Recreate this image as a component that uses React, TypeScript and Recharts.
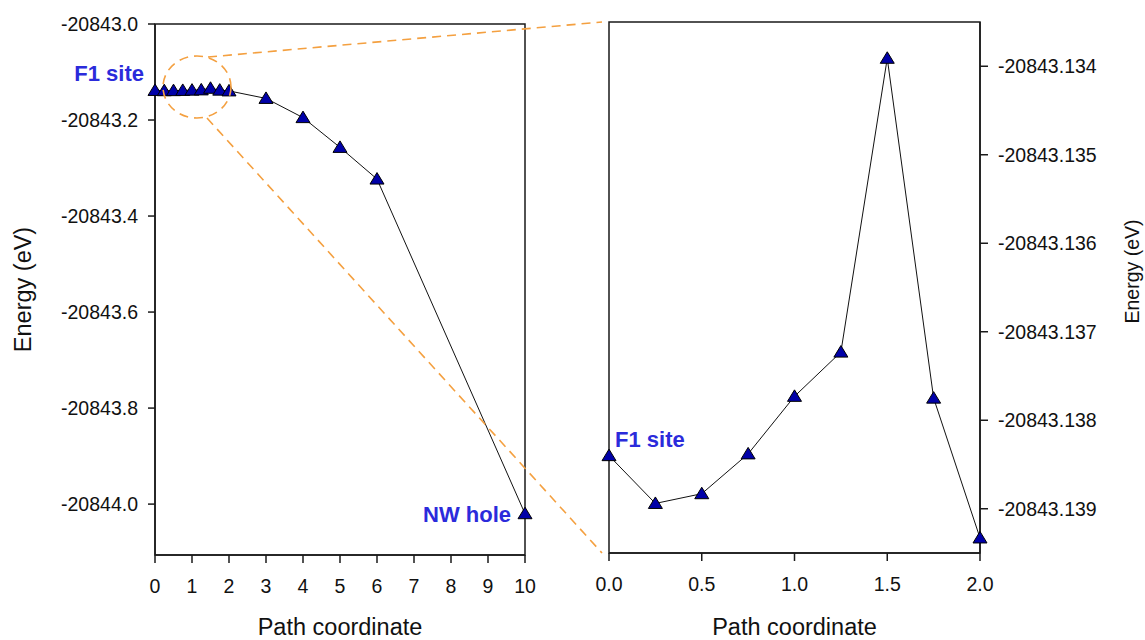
import React from 'react'
import { LineChart, Line, XAxis, YAxis, ReferenceArea } from 'recharts'

// zoomed segment of the path (shared by both panels)
const zoomPath = [0, 0.25, 0.5, 0.75, 1, 1.25, 1.5, 1.75, 2]
const zoomEnergy = [
  -20843.1384, -20843.13894, -20843.13883, -20843.13838, -20843.13773,
  -20843.13723, -20843.13391, -20843.13775, -20843.13933,
]
// rest of the path toward the NW hole
const farPath = [3, 4, 5, 6, 10]
const farEnergy = [-20843.155, -20843.195, -20843.257, -20843.323, -20844.02]

const leftXTicks = [0, 1, 2, 3, 4, 5, 6, 7, 8, 9, 10]
const leftYTicks = [-20844.0, -20843.8, -20843.6, -20843.4, -20843.2, -20843.0]
const rightXTicks = [0, 0.5, 1, 1.5, 2]
const rightYTicks = [-20843.139, -20843.138, -20843.137, -20843.136, -20843.135, -20843.134]

const leftData = [...zoomPath, ...farPath].map((x, i) => ({
  x,
  e: [...zoomEnergy, ...farEnergy][i],
}))
const rightData = zoomPath.map((x, i) => ({ x, e: zoomEnergy[i] }))

const FONT = '"Liberation Sans", Arial, sans-serif'
const AXIS = '#1a1a1a'
const BLUE_TXT = '#2b2bdb'
const ORANGE = '#f4a040'

const tickStyle = { fontSize: 19.5, fill: '#111', fontFamily: FONT }
const axisLine = { stroke: AXIS, strokeWidth: 1.5 }

function Triangle({ cx, cy }: { cx?: number; cy?: number }) {
  if (cx == null || cy == null) return null
  return (
    <path
      d={`M${cx},${cy - 6.5} L${cx - 7},${cy + 5} L${cx + 7},${cy + 5} Z`}
      fill="#0000a8"
      stroke="#000"
      strokeWidth={1}
    />
  )
}

const renderDot = (p: any) => <Triangle key={`t-${p.index}`} cx={p.cx} cy={p.cy} />

function AxisTitle(props: any) {
  const { viewBox, title, offX = 0, offY = 0, size = 23 } = props
  const vb = viewBox || { x: 0, y: 0, width: 0, height: 640 }
  const cx = vb.x + offX
  const cy = vb.y + vb.height / 2 + offY
  return (
    <text
      x={cx}
      y={cy}
      transform={`rotate(-90 ${cx} ${cy})`}
      textAnchor="middle"
      dominantBaseline="central"
      fontSize={size}
      fill="#111"
      fontFamily={FONT}
    >
      {title}
    </text>
  )
}

export default function App() {
  return (
    <div style={{ position: 'absolute', left: 0, top: 0, width: 1145, height: 640, background: '#fff' }}>
      <div style={{ position: 'absolute', left: 0, top: 0 }}>
        <LineChart width={560} height={640} data={leftData} margin={{ top: 24, right: 35, bottom: 0, left: 0 }}>
          <XAxis
            dataKey="x"
            type="number"
            domain={[0, 10]}
            ticks={leftXTicks}
            height={85}
            tickSize={8}
            tickMargin={16}
            tick={tickStyle}
            axisLine={axisLine}
            tickLine={axisLine}
            label={{ value: 'Path coordinate', position: 'insideBottom', offset: 5, fontSize: 23.5, fill: '#111', fontFamily: FONT }}
          />
          <YAxis
            type="number"
            domain={[-20844.106, -20843.0]}
            ticks={leftYTicks}
            width={155}
            tickSize={7}
            tickMargin={10}
            tick={tickStyle}
            tickFormatter={(v: number) => v.toFixed(1)}
            axisLine={axisLine}
            tickLine={axisLine}
            label={<AxisTitle title="Energy (eV)" offX={23} size={23.5} />}
          />
          <ReferenceArea x1={0} x2={10} y1={-20844.106} y2={-20843.0} fill="none" stroke={AXIS} strokeWidth={1.5} />
          <Line
            dataKey="e"
            type="linear"
            stroke="#111"
            strokeWidth={1}
            dot={renderDot}
            activeDot={false}
            isAnimationActive={false}
          />
        </LineChart>
      </div>
      <div style={{ position: 'absolute', left: 560, top: 0 }}>
        <LineChart width={585} height={640} data={rightData} margin={{ top: 22, right: 0, bottom: 0, left: 49 }}>
          <XAxis
            dataKey="x"
            type="number"
            domain={[0, 2]}
            ticks={rightXTicks}
            height={87}
            tickSize={8}
            tickMargin={16}
            tick={tickStyle}
            tickFormatter={(v: number) => v.toFixed(1)}
            axisLine={axisLine}
            tickLine={axisLine}
            label={{ value: 'Path coordinate', position: 'insideBottom', offset: 5, fontSize: 23.5, fill: '#111', fontFamily: FONT }}
          />
          <YAxis
            orientation="right"
            type="number"
            domain={[-20843.1395, -20843.1335]}
            ticks={rightYTicks}
            width={165}
            tickSize={8}
            tickMargin={10}
            tick={tickStyle}
            tickFormatter={(v: number) => v.toFixed(3)}
            axisLine={axisLine}
            tickLine={axisLine}
            label={<AxisTitle title="Energy (eV)" offX={152} offY={-16} size={19.5} />}
          />
          <ReferenceArea x1={0} x2={2} y1={-20843.1395} y2={-20843.1335} fill="none" stroke={AXIS} strokeWidth={1.5} />
          <Line
            dataKey="e"
            type="linear"
            stroke="#111"
            strokeWidth={1}
            dot={renderDot}
            activeDot={false}
            isAnimationActive={false}
          />
        </LineChart>
      </div>
      {/* zoom call-out and site labels */}
      <svg
        width={1145}
        height={640}
        style={{ position: 'absolute', left: 0, top: 0, pointerEvents: 'none' }}
      >
        <g fill="none" stroke={ORANGE} strokeWidth={1.6} strokeDasharray="9 6">
          <ellipse cx={197} cy={87} rx={34} ry={31} />
          <line x1={208} y1={57} x2={602} y2={22} />
          <line x1={207} y1={118} x2={602} y2={553} />
        </g>
        <g fill={BLUE_TXT} fontFamily={FONT} fontWeight={700} fontSize={22}>
          <text x={144} y={81} textAnchor="end">F1 site</text>
          <text x={511} y={522} textAnchor="end">NW hole</text>
          <text x={615} y={447}>F1 site</text>
        </g>
      </svg>
    </div>
  )
}
